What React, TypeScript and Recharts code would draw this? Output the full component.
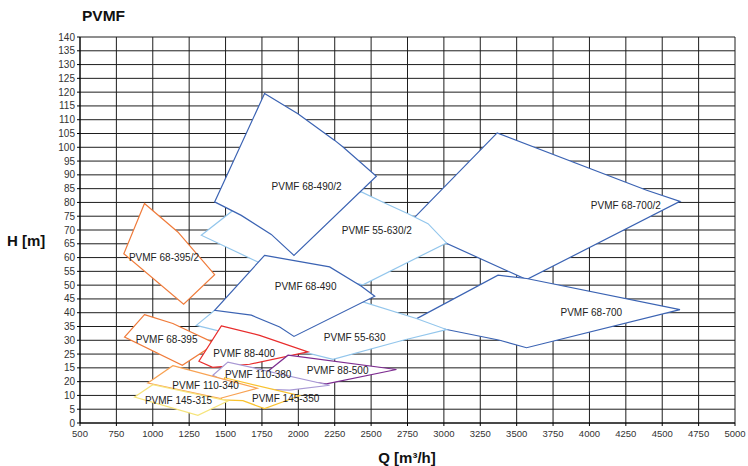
import React from "react";
import { ScatterChart, Scatter, XAxis, YAxis, CartesianGrid } from "recharts";

// ---- axis ticks ----
const Q_TICKS = [500, 750, 1000, 1250, 1500, 1750, 2000, 2250, 2500, 2750, 3000, 3250, 3500, 3750, 4000, 4250, 4500, 4750, 5000];
const H_TICKS = [0, 5, 10, 15, 20, 25, 30, 35, 40, 45, 50, 55, 60, 65, 70, 75, 80, 85, 90, 95, 100, 105, 110, 115, 120, 125, 130, 135, 140];
// labels as printed on the reference (15 and 20 appear swapped)
const H_TICK_LABELS = ["0", "5", "10", "20", "15", "25", "30", "35", "40", "45", "50", "55", "60", "65", "70", "75", "80", "85", "90", "95", "100", "105", "110", "115", "120", "125", "130", "135", "140"];

// ---- pump range envelopes (Q [m3/h], H [m]) ----
const pvmf68_700_2 = [
  { q: 2745, h: 71.7 }, { q: 3366, h: 105.2 }, { q: 4393, h: 84.4 }, { q: 4622, h: 80.4 }, { q: 3568, h: 52.0 },
];
const pvmf55_630_2 = [
  { q: 1333, h: 68.1 }, { q: 1597, h: 79.0 }, { q: 2433, h: 83.8 }, { q: 2593, h: 79.8 }, { q: 2754, h: 75.9 },
  { q: 2891, h: 72.3 }, { q: 3018, h: 65.3 }, { q: 2444, h: 50.1 }, { q: 1722, h: 58.4 },
];
const pvmf68_490_2 = [
  { q: 1768, h: 119.5 }, { q: 1997, h: 112.2 }, { q: 2250, h: 102.5 }, { q: 2307, h: 100.1 }, { q: 2536, h: 89.5 },
  { q: 1970, h: 60.8 }, { q: 1814, h: 68.4 }, { q: 1608, h: 75.3 }, { q: 1425, h: 80.2 },
];
const pvmf68_700 = [
  { q: 2765, h: 36.5 }, { q: 3372, h: 53.6 }, { q: 3568, h: 52.4 }, { q: 4622, h: 41.1 }, { q: 3568, h: 27.3 },
  { q: 3384, h: 30.0 }, { q: 3018, h: 33.9 },
];
const pvmf55_630 = [
  { q: 1299, h: 35.4 }, { q: 1425, h: 40.9 }, { q: 2444, h: 43.9 }, { q: 2811, h: 37.9 }, { q: 3018, h: 33.9 },
  { q: 2719, h: 30.0 }, { q: 2238, h: 23.1 },
];
const pvmf68_490 = [
  { q: 1768, h: 60.8 }, { q: 2215, h: 56.6 }, { q: 2433, h: 49.6 }, { q: 2525, h: 46.0 }, { q: 1970, h: 31.4 },
  { q: 1872, h: 34.8 }, { q: 1677, h: 39.1 }, { q: 1425, h: 40.9 },
];
const pvmf68_395_2 = [
  { q: 943, h: 79.6 }, { q: 1172, h: 69.3 }, { q: 1425, h: 53.8 }, { q: 1212, h: 43.1 }, { q: 801, h: 61.4 },
];
const pvmf68_395 = [
  { q: 943, h: 39.3 }, { q: 1138, h: 36.1 }, { q: 1432, h: 28.8 }, { q: 1203, h: 20.9 }, { q: 806, h: 31.2 },
];
const pvmf88_400 = [
  { q: 1471, h: 35.2 }, { q: 1734, h: 31.8 }, { q: 2066, h: 25.8 }, { q: 1665, h: 21.3 }, { q: 1411, h: 20.2 }, { q: 1317, h: 22.4 },
];
const pvmf88_500 = [
  { q: 1929, h: 24.6 }, { q: 2674, h: 19.4 }, { q: 2193, h: 14.2 }, { q: 1748, h: 16.9 },
];
const pvmf110_380 = [
  { q: 1413, h: 17.3 }, { q: 1516, h: 22.1 }, { q: 2215, h: 13.7 }, { q: 1940, h: 11.9 }, { q: 1597, h: 12.6 },
];
const pvmf145_350 = [
  { q: 1493, h: 16.4 }, { q: 2009, h: 9.9 }, { q: 1768, h: 5.2 }, { q: 1619, h: 8.1 }, { q: 1471, h: 8.4 },
];
const pvmf110_340 = [
  { q: 1138, h: 20.8 }, { q: 1717, h: 12.6 }, { q: 1459, h: 8.9 }, { q: 966, h: 14.5 },
];
const pvmf145_315 = [
  { q: 875, h: 9.4 }, { q: 1000, h: 13.9 }, { q: 1516, h: 8.0 }, { q: 1310, h: 2.8 },
];

// ---- labels ----
const LABELS = [
  { name: "PVMF 68-490/2", q: 2057, h: 85.9 },
  { name: "PVMF 55-630/2", q: 2539, h: 69.9 },
  { name: "PVMF 68-700/2", q: 4250, h: 79.0 },
  { name: "PVMF 68-395/2", q: 1077, h: 60.1 },
  { name: "PVMF 68-490", q: 2050, h: 49.6 },
  { name: "PVMF 55-630", q: 2387, h: 31.1 },
  { name: "PVMF 68-700", q: 4013, h: 40.2 },
  { name: "PVMF 68-395", q: 1095, h: 30.4 },
  { name: "PVMF 88-400", q: 1628, h: 25.3 },
  { name: "PVMF 88-500", q: 2270, h: 19.1 },
  { name: "PVMF 110-380", q: 1724, h: 17.7 },
  { name: "PVMF 110-340", q: 1363, h: 13.7 },
  { name: "PVMF 145-315", q: 1177, h: 8.2 },
  { name: "PVMF 145-350", q: 1913, h: 9.0 },
];

const DARK_BLUE = "#3b63b3";
const LIGHT_BLUE = "#93c6ec";

// drawing order (first = bottom)
const SERIES = [
  { key: "68-700/2", data: pvmf68_700_2, color: DARK_BLUE },
  { key: "55-630/2", data: pvmf55_630_2, color: LIGHT_BLUE },
  { key: "68-490/2", data: pvmf68_490_2, color: DARK_BLUE },
  { key: "68-700", data: pvmf68_700, color: DARK_BLUE },
  { key: "55-630", data: pvmf55_630, color: LIGHT_BLUE },
  { key: "68-490", data: pvmf68_490, color: DARK_BLUE },
  { key: "68-395/2", data: pvmf68_395_2, color: "#f07b3a" },
  { key: "68-395", data: pvmf68_395, color: "#f07b3a" },
  { key: "88-400", data: pvmf88_400, color: "#e82c2c" },
  { key: "88-500", data: pvmf88_500, color: "#7d2c90" },
  { key: "110-380", data: pvmf110_380, color: "#a898d4" },
  { key: "145-350", data: pvmf145_350, color: "#f9c22e" },
  { key: "110-340", data: pvmf110_340, color: "#f8a253" },
  { key: "145-315", data: pvmf145_315, color: "#f6e47a" },
];

const FONT = "'Liberation Sans', Arial, Helvetica, sans-serif";

const makePolygon = (color: string) => (props: any) => {
  const pts = (props.points || []) as { x: number; y: number }[];
  const s = pts.map((p) => `${p.x},${p.y}`).join(" ");
  return <polygon points={s} fill="#ffffff" stroke={color} strokeWidth={1.2} strokeLinejoin="miter" />;
};

const NoDot = () => <g />;

const LabelShape = (props: any) => {
  const { cx, cy, payload } = props;
  return (
    <text x={cx} y={cy} textAnchor="middle" dominantBaseline="central" fontSize={10} fontFamily={FONT} fill="#222">
      {payload?.name}
    </text>
  );
};

export default function App() {
  return (
    <div style={{ position: "absolute", left: 0, top: 0, width: 748, height: 466, background: "#fff" }}>
      <ScatterChart width={748} height={466} margin={{ top: 37, right: 13, bottom: 13, left: 0 }}>
        <CartesianGrid stroke="#1e1e1e" strokeWidth={1} horizontal vertical />
        <XAxis
          type="number"
          dataKey="q"
          domain={[500, 5000]}
          ticks={Q_TICKS}
          allowDataOverflow
          interval={0}
          tickSize={3}
          tickMargin={4}
          height={30}
          axisLine={{ stroke: "#000" }}
          tickLine={{ stroke: "#000" }}
          tick={{ fontSize: 9.5, fontFamily: FONT, fill: "#333" }}
        />
        <YAxis
          type="number"
          dataKey="h"
          domain={[0, 140]}
          ticks={H_TICKS}
          allowDataOverflow
          interval={0}
          width={80}
          tickSize={3}
          tickMargin={2}
          axisLine={{ stroke: "#000" }}
          tickLine={{ stroke: "#000" }}
          tick={{ fontSize: 10, fontFamily: FONT, fill: "#333" }}
          tickFormatter={(v: number, i: number) => H_TICK_LABELS[i] ?? String(v)}
        />
        {SERIES.map((s) => (
          <Scatter
            key={s.key}
            name={s.key}
            data={s.data}
            line={makePolygon(s.color)}
            lineType="joint"
            shape={NoDot}
            fill={s.color}
            isAnimationActive={false}
          />
        ))}
        <Scatter name="labels" data={LABELS} shape={LabelShape} isAnimationActive={false} />
      </ScatterChart>
      <svg width={748} height={466} style={{ position: "absolute", left: 0, top: 0, pointerEvents: "none" }}>
        <text x={82} y={15} dominantBaseline="central" fontSize={15.5} fontWeight="bold" fontFamily={FONT} fill="#111">PVMF</text>
        <text x={7} y={240} dominantBaseline="central" fontSize={15} fontWeight="bold" fontFamily={FONT} fill="#111">H [m]</text>
        <text x={407} y={457} textAnchor="middle" dominantBaseline="central" fontSize={15} fontWeight="bold" fontFamily={FONT} fill="#111">Q [m³/h]</text>
      </svg>
    </div>
  );
}
